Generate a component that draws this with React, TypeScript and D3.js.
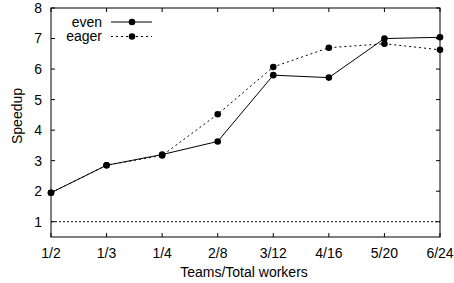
import React, { useEffect, useRef } from 'react';
import * as d3 from 'd3';

const categories = ['1/2', '1/3', '1/4', '2/8', '3/12', '4/16', '5/20', '6/24'];
const evenValues = [1.95, 2.85, 3.2, 3.63, 5.8, 5.72, 7.0, 7.04];
const eagerValues = [1.95, 2.85, 3.17, 4.52, 6.07, 6.7, 6.83, 6.63];
const yTicks = [1, 2, 3, 4, 5, 6, 7, 8];
const baseline = 1;

const W = 454;
const H = 283;
const margin = { left: 51, right: 14, top: 8, bottom: 46 };

export default function App() {
  const ref = useRef<SVGSVGElement | null>(null);

  useEffect(() => {
    const svg = d3.select(ref.current);
    svg.selectAll('*').remove();
    const font = 'Liberation Sans, Arial, sans-serif';
    const fs = 14;

    const x = d3.scaleLinear().domain([0, categories.length - 1]).range([margin.left, W - margin.right]);
    const y = d3.scaleLinear().domain([0.5, 8]).range([H - margin.bottom, margin.top]);
    const x0 = margin.left, x1 = W - margin.right, y0 = H - margin.bottom, y1 = margin.top;
    const tl = 4;

    // baseline (speedup 1)
    svg.append('line')
      .attr('x1', x0).attr('x2', x1)
      .attr('y1', y(baseline)).attr('y2', y(baseline))
      .attr('stroke', '#000').attr('stroke-width', 1).attr('stroke-dasharray', '2,2');

    // ticks
    const g = svg.append('g').attr('stroke', '#000').attr('stroke-width', 1);
    yTicks.forEach(t => {
      g.append('line').attr('x1', x0).attr('x2', x0 + tl).attr('y1', y(t)).attr('y2', y(t));
      g.append('line').attr('x1', x1).attr('x2', x1 - tl).attr('y1', y(t)).attr('y2', y(t));
    });
    categories.forEach((c, i) => {
      g.append('line').attr('x1', x(i)).attr('x2', x(i)).attr('y1', y0).attr('y2', y0 - tl);
      g.append('line').attr('x1', x(i)).attr('x2', x(i)).attr('y1', y1).attr('y2', y1 + tl);
    });

    // frame
    svg.append('rect')
      .attr('x', x0).attr('y', y1).attr('width', x1 - x0).attr('height', y0 - y1)
      .attr('fill', 'none').attr('stroke', '#000').attr('stroke-width', 1);

    // tick labels
    svg.append('g').selectAll('text').data(yTicks).join('text')
      .attr('x', x0 - 9).attr('y', d => y(d)).attr('dy', '0.35em')
      .attr('text-anchor', 'end').attr('font-family', font).attr('font-size', fs)
      .text(d => d);
    svg.append('g').selectAll('text').data(categories).join('text')
      .attr('x', (d, i) => x(i)).attr('y', y0 + 21)
      .attr('text-anchor', 'middle').attr('font-family', font).attr('font-size', fs)
      .text(d => d);

    // axis titles
    svg.append('text')
      .attr('x', 244).attr('y', H - 6)
      .attr('text-anchor', 'middle').attr('font-family', font).attr('font-size', fs)
      .text('Teams/Total workers');
    svg.append('text')
      .attr('transform', `translate(22,116) rotate(-90)`)
      .attr('text-anchor', 'middle').attr('font-family', font).attr('font-size', fs)
      .text('Speedup');

    const line = d3.line<number>().x((d, i) => x(i)).y(d => y(d));
    const series = [
      { name: 'even', values: evenValues, dash: null as string | null },
      { name: 'eager', values: eagerValues, dash: '2,3' },
    ];

    series.forEach((s, k) => {
      svg.append('path').datum(s.values)
        .attr('d', line).attr('fill', 'none').attr('stroke', '#000').attr('stroke-width', 1)
        .attr('stroke-dasharray', s.dash);
      svg.append('g').selectAll('circle').data(s.values).join('circle')
        .attr('cx', (d, i) => x(i)).attr('cy', d => y(d)).attr('r', 3.3).attr('fill', '#000');

      // legend
      const ly = 22 + k * 14.5;
      svg.append('text')
        .attr('x', 102).attr('y', ly).attr('dy', '0.35em')
        .attr('text-anchor', 'end').attr('font-family', font).attr('font-size', fs)
        .text(s.name);
      svg.append('line')
        .attr('x1', 111).attr('x2', 152).attr('y1', ly).attr('y2', ly)
        .attr('stroke', '#000').attr('stroke-width', 1).attr('stroke-dasharray', s.dash);
      svg.append('circle').attr('cx', 132).attr('cy', ly).attr('r', 3.3).attr('fill', '#000');
    });
  }, []);

  return (
    <svg ref={ref} width={W} height={H}
      style={{ position: 'absolute', left: 0, top: 0, background: '#fff' }} />
  );
}
